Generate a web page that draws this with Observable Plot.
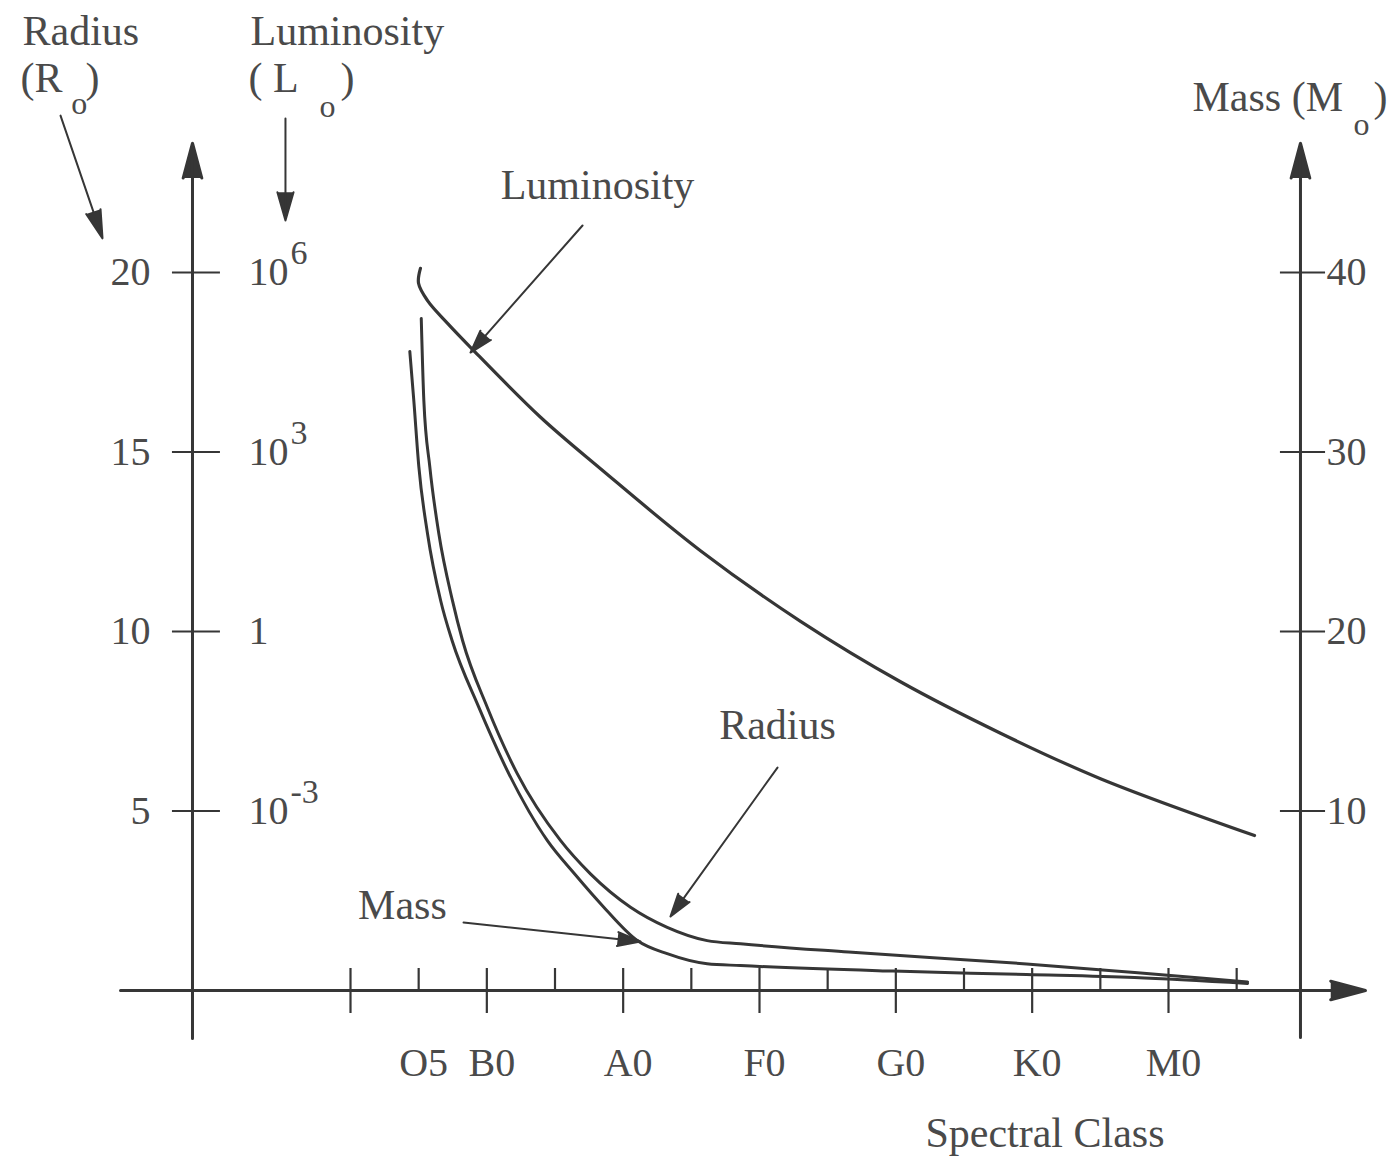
<!DOCTYPE html>
<html>
<head>
<meta charset="utf-8">
<script src="https://cdn.jsdelivr.net/npm/d3@7"></script>
<script src="https://cdn.jsdelivr.net/npm/@observablehq/plot@0.6"></script>
<style>
  html, body { margin: 0; padding: 0; background: #fff; }
  #chart svg { display: block; }
</style>
</head>
<body>
<div id="chart"></div>
<script>
// ---------- Data (x = spectral class position: B0=1, A0=2, F0=3, G0=4, K0=5, M0=6) ----------
const classTickPos   = [0.5, 1, 2, 3, 4, 5, 6];
const classTickLabel = ["O5", "B0", "A0", "F0", "G0", "K0", "M0"];
const majorTicks = [0, 1, 2, 3, 4, 5, 6];
const minorTicks = [0.5, 1.5, 2.5, 3.5, 4.5, 5.5, 6.5];

const radiusTicks = [5, 10, 15, 20];            // R_sun
const lumTickExp  = [-3, 0, 3, 6];              // log10 L_sun
const massTicks   = [10, 20, 30, 40];           // M_sun

// Radius curve (R_sun)
const radiusClass  = [0.519, 0.538, 0.582, 0.648, 0.748, 0.822, 1.003, 1.223, 1.540, 1.760, 2.054, 2.323, 2.616, 2.861, 3.653, 4.959, 5.751, 6.235, 6.580];
const radiusValues = [18.72, 16.43, 14.58, 12.72, 10.86, 9.75, 7.89, 6.04, 4.18, 3.25, 2.32, 1.76, 1.39, 1.30, 1.07, 0.74, 0.50, 0.35, 0.24];

// Mass curve (M_sun)
const massClass  = [0.435, 0.464, 0.501, 0.565, 0.662, 0.745, 0.940, 1.160, 1.443, 1.643, 1.858, 2.103, 2.323, 2.616, 2.861, 3.979, 4.959, 5.751, 6.580];
const massValues = [35.6, 32.9, 29.2, 25.45, 21.7, 19.5, 15.8, 12.1, 8.36, 6.50, 4.64, 2.79, 2.05, 1.49, 1.39, 1.08, 0.89, 0.72, 0.39];

// Luminosity curve (log10 L_sun)
const lumClass  = [0.513, 0.499, 0.565, 0.712, 0.880, 1.394, 1.834, 2.567, 3.301, 4.034, 4.768, 5.501, 6.631];
const lumLog10  = [6.07, 5.82, 5.53, 5.15, 4.75, 3.58, 2.72, 1.35, 0.17, -0.84, -1.70, -2.46, -3.41];

// ---------- Shared vertical scale: radius units; other quantities mapped onto it ----------
const lumToY  = (e) => 10 + (5 / 3) * e;   // 1e6 -> 20, 1e3 -> 15, 1 -> 10, 1e-3 -> 5
const massToY = (m) => m / 2;              // 40 -> 20, 10 -> 5

const radiusData = radiusClass.map((x, i) => ({x, y: radiusValues[i]}));
const massData   = massClass.map((x, i) => ({x, y: massToY(massValues[i])}));
const lumData    = lumClass.map((x, i) => ({x, y: lumToY(lumLog10[i])}));

const INK = "#363636";
const TXT = "#4a4a4a";
const FONT = "'Liberation Serif', 'Times New Roman', serif";

const leftAxisX = -1.159, rightAxisX = 6.968;
const arrowOpts = (sw, hl, ha) => ({x1: "x1", y1: "y1", x2: "x2", y2: "y2", stroke: INK, fill: INK, strokeWidth: sw, headLength: hl, headAngle: ha});

const chart = Plot.plot({
  width: 1392,
  height: 1157,
  margin: 0,
  x: {domain: [0, 6], range: [350, 1168], axis: null},
  y: {domain: [0, 20], range: [990, 272], axis: null},
  style: {fontFamily: FONT, background: "#fff", color: INK},
  marks: [
    // axes with arrowheads
    Plot.arrow([{x1: leftAxisX, y1: -1.34, x2: leftAxisX, y2: 23.6}], arrowOpts(3, 18, 30)),
    Plot.arrow([{x1: rightAxisX, y1: -1.31, x2: rightAxisX, y2: 23.6}], arrowOpts(3, 18, 30)),
    Plot.arrow([{x1: -1.687, y1: 0, x2: 7.445, y2: 0}], arrowOpts(3, 18, 30)),

    // x ticks
    Plot.ruleX(majorTicks, {x: d => d, y1: -0.64, y2: 0.613, stroke: INK, strokeWidth: 2.2}),
    Plot.ruleX(minorTicks, {x: d => d, y1: 0, y2: 0.613, stroke: INK, strokeWidth: 2.2}),

    // left ticks
    Plot.ruleY(radiusTicks, {y: d => d, x1: -1.306, x2: -0.954, stroke: INK, strokeWidth: 2.2}),
    // right ticks
    Plot.ruleY(massTicks, {y: d => massToY(d), x1: 6.821, x2: 7.152, stroke: INK, strokeWidth: 2.2}),

    // tick labels
    Plot.text(radiusTicks, {x: -1.467, y: d => d, text: d => String(d), textAnchor: "end", fontSize: 40, fill: TXT}),
    Plot.text(lumTickExp, {x: -0.748, y: d => lumToY(d), text: d => d === 0 ? "1" : "10", textAnchor: "start", fontSize: 40, fill: TXT}),
    Plot.text(lumTickExp.filter(d => d !== 0), {x: -0.748, y: d => lumToY(d), text: d => String(d), textAnchor: "start", fontSize: 34, dx: 42, dy: -19, fill: TXT}),
    Plot.text(massTicks, {x: 7.152, y: d => massToY(d), text: d => String(d), textAnchor: "start", fontSize: 40, dx: 1, fill: TXT}),
    Plot.text(classTickPos, {x: d => d, y: -2.03, text: (d, i) => classTickLabel[i], fontSize: 40, dx: 5, fill: TXT}),
    Plot.text(["Spectral Class"], {x: 5.094, y: -3.98, text: d => d, fontSize: 42, fill: TXT}),

    // axis titles (top)
    Plot.text(["Radius"], {x: -2.406, y: 26.7, text: d => d, textAnchor: "start", fontSize: 42, fill: TXT}),
    Plot.text(["(R"], {x: -2.421, y: 25.4, text: d => d, textAnchor: "start", fontSize: 42, fill: TXT}),
    Plot.text(["o"], {x: -1.99, y: 24.7, text: d => d, fontSize: 32, fill: TXT}),
    Plot.text([")"], {x: -1.944, y: 25.4, text: d => d, textAnchor: "start", fontSize: 42, fill: TXT}),
    Plot.arrow([{x1: -2.127, y1: 24.37, x2: -1.819, y2: 20.95}], arrowOpts(2, 22, 30)),

    Plot.text(["Luminosity"], {x: -0.7335, y: 26.7, text: d => d, textAnchor: "start", fontSize: 42, fill: TXT}),
    Plot.text(["( L"], {x: -0.748, y: 25.4, text: d => d, textAnchor: "start", fontSize: 42, fill: TXT}),
    Plot.text(["o"], {x: -0.169, y: 24.62, text: d => d, fontSize: 32, fill: TXT}),
    Plot.text([")"], {x: -0.073, y: 25.4, text: d => d, textAnchor: "start", fontSize: 42, fill: TXT}),
    Plot.arrow([{x1: -0.477, y1: 24.29, x2: -0.477, y2: 21.45}], arrowOpts(2, 22, 32)),

    Plot.text(["Mass (M"], {x: 6.176, y: 24.87, text: d => d, textAnchor: "start", fontSize: 42, fill: TXT}),
    Plot.text(["o"], {x: 7.416, y: 24.12, text: d => d, fontSize: 32, fill: TXT}),
    Plot.text([")"], {x: 7.504, y: 24.87, text: d => d, textAnchor: "start", fontSize: 42, fill: TXT}),

    // curves
    Plot.line(lumData, {x: "x", y: "y", curve: "catmull-rom", stroke: INK, strokeWidth: 3.2}),
    Plot.line(radiusData, {x: "x", y: "y", curve: "monotone-x", stroke: INK, strokeWidth: 3}),
    Plot.line(massData, {x: "x", y: "y", curve: "monotone-x", stroke: INK, strokeWidth: 3}),

    // annotations
    Plot.text(["Luminosity"], {x: 1.812, y: 22.42, text: d => d, fontSize: 42, fill: TXT}),
    Plot.arrow([{x1: 1.702, y1: 21.31, x2: 0.880, y2: 17.77}], arrowOpts(2, 18, 34)),
    Plot.text(["Radius"], {x: 3.132, y: 7.38, text: d => d, fontSize: 42, fill: TXT}),
    Plot.arrow([{x1: 3.132, y1: 6.21, x2: 2.347, y2: 2.06}], arrowOpts(2, 18, 34)),
    Plot.text(["Mass"], {x: 0.381, y: 2.37, text: d => d, fontSize: 42, fill: TXT}),
    Plot.arrow([{x1: 0.829, y1: 1.894, x2: 2.127, y2: 1.365}], arrowOpts(2, 18, 34))
  ]
});
document.getElementById("chart").append(chart);
</script>
</body>
</html>
